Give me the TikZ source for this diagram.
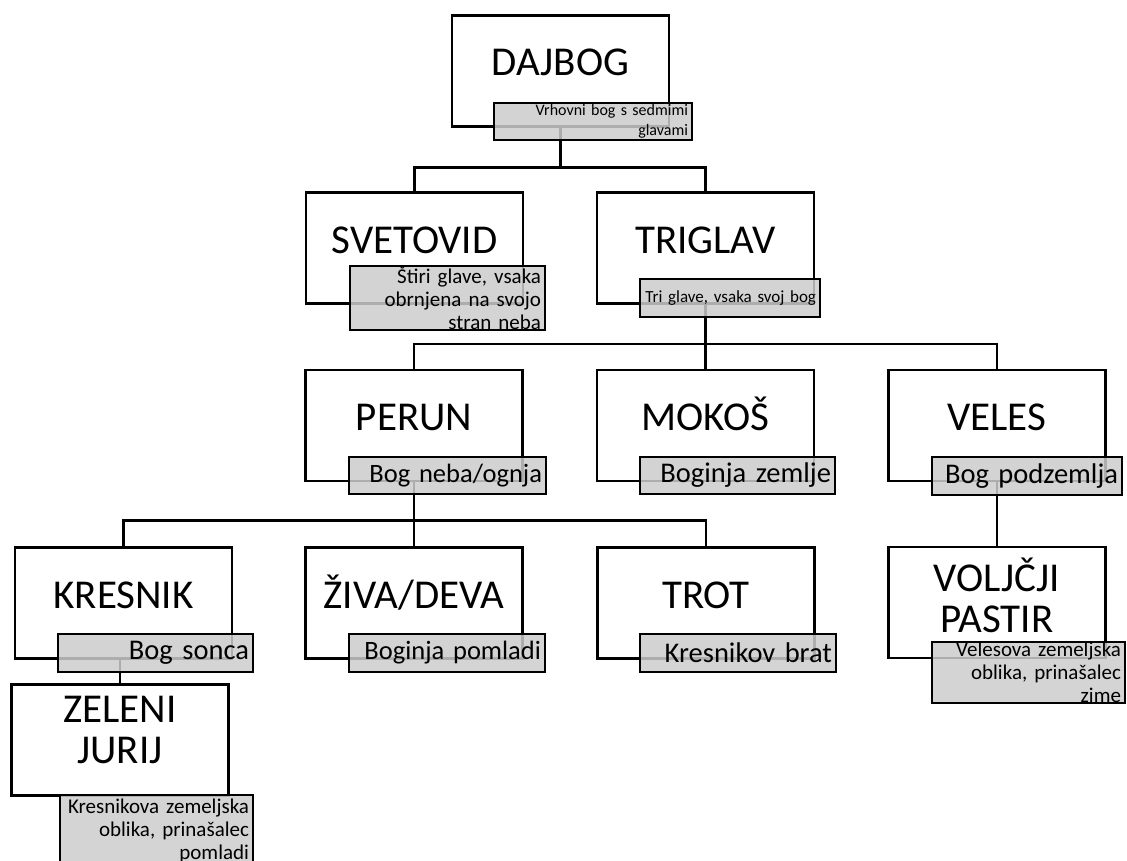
\documentclass[tikz,border=0pt]{standalone}
\usepackage{fontspec}
\setmainfont{Carlito}
\usepackage{tikz}

\begin{document}
\begin{tikzpicture}[x=1pt, y=-1pt, line width=2.5pt,
    main/.style = {draw, rectangle, fill=white, minimum width=217pt, minimum height=111pt, inner sep=0pt, align=center, font=\fontsize{41}{41}\selectfont, text height=26pt, text depth=16pt},
    desc/.style = {draw, rectangle, fill=black!20, fill opacity=0.85, text opacity=1, inner xsep=4pt, inner ysep=0pt, align=right, font=\fontsize{28.5}{30}\selectfont},
    small/.style = {font=\fontsize{21}{23}\selectfont}]
    \useasboundingbox (0,0) rectangle (1127,861);
    \node[main] (1) at (560.5,71) {DAJBOG};
    \node[main] (2) at (414.5,248) {SVETOVID};
    \node[main] (3) at (705.5,248) {TRIGLAV};
    \node[main] (4) at (414,425.5) {PERUN};
    \node[main] (5) at (705.5,425.5) {MOKOŠ};
    \node[main] (6) at (997,425.5) {VELES};
    \node[main] (7) at (123.5,603) {KRESNIK};
    \node[main] (8) at (414,603) {ŽIVA/DEVA};
    \node[main] (9) at (706,603) {TROT};
    \node[main, text height=67pt, text depth=8pt] (10) at (997,602.5) {VOLJČJI\\PASTIR};
    \node[main, text height=67pt, text depth=21pt] (11) at (120,740) {ZELENI\\JURIJ};
    \draw (1.south) -- ++(0,40) -| (2.north);
    \draw (1.south) -- ++(0,40) -| (3.north);
    \draw (3.south) -- ++(0,39) -| (4.north);
    \draw (3.south) -- ++(0,39) -| (5.north);
    \draw (3.south) -- ++(0,39) -| (6.north);
    \draw (4.south) -- ++(0,38) -| (7.north);
    \draw (4.south) -- ++(0,38) -| (8.north);
    \draw (4.south) -- ++(0,38) -| (9.north);
    \draw (6.south) -- (10.north);
    \draw (11.north) -- (11.north |- 7.south);
    \node[desc, text width=190pt, minimum height=37pt, font=\fontsize{16}{19.5}\selectfont] (d1) at (593,121.5) {Vrhovni bog s sedmimi\\glavami};
    \node[desc, small, text width=187pt, minimum height=64pt] (d2) at (447.5,298) {Štiri glave, vsaka\\obrnjena na svojo\\stran neba};
    \node[desc, text width=172pt, minimum height=38pt, font=\fontsize{17}{19}\selectfont] (d3) at (730,298) {Tri glave, vsaka svoj bog};
    \node[desc, text width=189pt, minimum height=37pt, font=\fontsize{26.5}{28}\selectfont] (d4) at (447.5,475.5) {Bog neba/ognja};
    \node[desc, text width=187pt, minimum height=37pt] (d5) at (737.5,475.5) {Boginja zemlje};
    \node[desc, text width=182pt, minimum height=38pt] (d6) at (1027,476) {Bog podzemlja};
    \node[desc, text width=187pt, minimum height=38pt] (d7) at (155.5,653) {Bog sonca};
    \node[desc, text width=188pt, minimum height=38pt, font=\fontsize{26.5}{28}\selectfont] (d8) at (447,653) {Boginja pomladi};
    \node[desc, text width=188pt, minimum height=38pt] (d9) at (738,653) {Kresnikov brat};
    \node[desc, small, text width=185pt, minimum height=61pt] (d10) at (1028.5,672.5) {Velesova zemeljska\\oblika, prinašalec\\zime};
    \node[desc, small, text width=185pt, minimum height=72pt] (d11) at (156.5,831) {Kresnikova zemeljska\\oblika, prinašalec\\pomladi};
\end{tikzpicture}
\end{document}
